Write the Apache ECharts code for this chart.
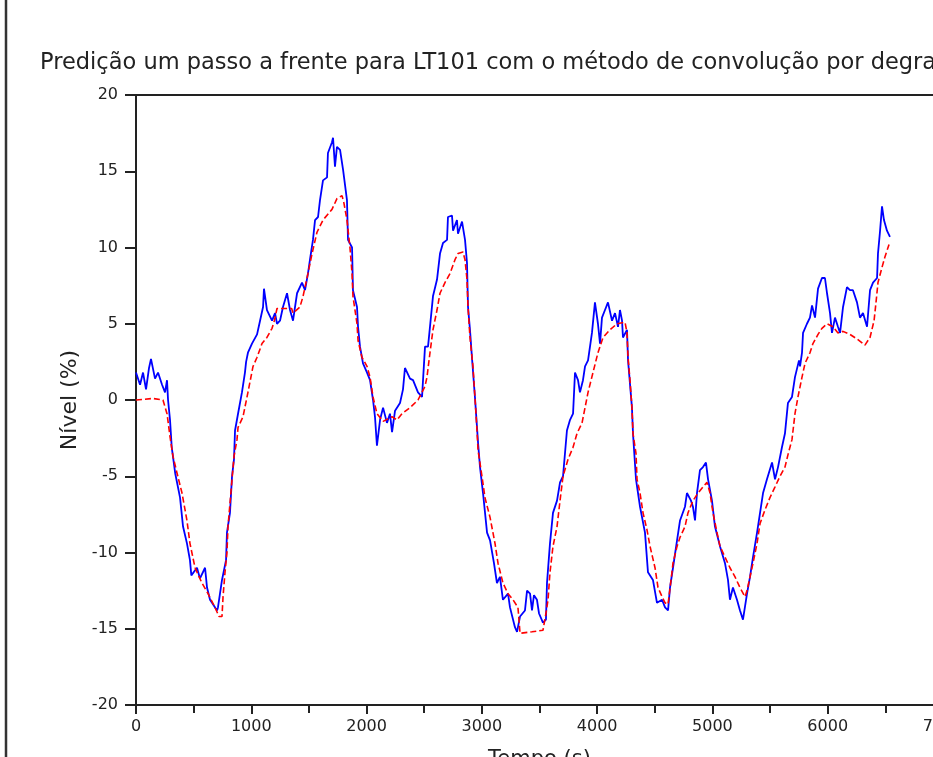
<!DOCTYPE html>
<html>
<head>
<meta charset="utf-8">
<script src="https://cdn.jsdelivr.net/npm/echarts@6/dist/echarts.min.js"></script>
<style>
  html, body { margin: 0; padding: 0; background: #fff; }
  #chart { width: 933px; height: 757px; }
</style>
</head>
<body>
<div id="chart"></div>
<script>
// nível medido (azul)
const measured = [
  [0, 1.8], [35, 1.0], [61, 1.8], [87, 0.7], [113, 2.1], [130, 2.7], [165, 1.4], [191, 1.8],
  [226, 1.0], [252, 0.5], [269, 1.3], [278, 0.0], [295, -1.3], [310, -3.1], [340, -4.8],
  [382, -6.4], [408, -8.3], [442, -9.4], [468, -10.5], [480, -11.5], [529, -11.0], [555, -11.7],
  [599, -11.0], [616, -12.3], [642, -13.1], [703, -13.8], [711, -13.6], [746, -11.8], [781, -10.5],
  [789, -8.7], [815, -7.4], [833, -5.0], [850, -3.9], [859, -2.0], [885, -0.9], [919, 0.5],
  [945, 1.8], [955, 2.5], [971, 3.1], [1006, 3.7], [1050, 4.3], [1076, 5.2], [1102, 6.1],
  [1110, 7.3], [1136, 5.9], [1180, 5.2], [1206, 5.7], [1223, 5.0], [1249, 5.2], [1275, 6.1],
  [1310, 7.0], [1336, 5.9], [1362, 5.2], [1397, 7.0], [1440, 7.7], [1466, 7.2], [1492, 8.3],
  [1509, 9.2], [1535, 10.5], [1553, 11.8], [1579, 12.0], [1596, 13.1], [1622, 14.4], [1657, 14.6],
  [1665, 16.2], [1700, 16.9], [1709, 17.2], [1726, 15.3], [1743, 16.6], [1770, 16.4], [1796, 15.1],
  [1830, 13.1], [1839, 10.5], [1874, 10.0], [1882, 7.2], [1917, 6.1], [1926, 4.8], [1943, 3.5],
  [1969, 2.4], [2004, 1.8], [2030, 1.3], [2056, 0.0], [2073, -1.1], [2090, -3.0], [2117, -1.3],
  [2143, -0.5], [2177, -1.5], [2203, -0.9], [2221, -2.1], [2247, -0.7], [2290, -0.2], [2316, 0.7],
  [2333, 2.1], [2377, 1.4], [2403, 1.3], [2446, 0.5], [2481, 0.2], [2507, 3.5], [2533, 3.5],
  [2550, 4.8], [2576, 6.8], [2611, 7.9], [2637, 9.6], [2663, 10.3], [2698, 10.5], [2706, 12.0],
  [2741, 12.1], [2750, 11.1], [2784, 11.8], [2793, 10.9], [2828, 11.7], [2854, 10.5], [2871, 9.0],
  [2880, 6.1], [2897, 4.6], [2914, 2.8], [2940, 0.2], [2967, -2.8], [2984, -4.4], [3010, -6.1],
  [3045, -8.7], [3071, -9.2], [3105, -10.7], [3131, -12.0], [3157, -11.6], [3183, -13.1],
  [3227, -12.7], [3244, -13.6], [3287, -14.9], [3305, -15.2], [3331, -14.2], [3374, -13.8],
  [3392, -12.5], [3418, -12.7], [3435, -13.8], [3452, -12.8], [3478, -13.1], [3496, -14.0],
  [3530, -14.6], [3556, -14.4], [3565, -12.0], [3591, -9.4], [3617, -7.4], [3652, -6.6],
  [3678, -5.4], [3704, -5.0], [3738, -2.0], [3765, -1.3], [3791, -0.9], [3808, 1.8], [3834, 1.3],
  [3851, 0.5], [3877, 1.3], [3895, 2.2], [3921, 2.6], [3955, 4.4], [3981, 6.4], [4007, 5.0],
  [4025, 3.7], [4042, 5.4], [4068, 5.9], [4094, 6.4], [4129, 5.2], [4155, 5.7], [4181, 4.8],
  [4198, 5.9], [4216, 5.2], [4224, 4.1], [4259, 4.6], [4268, 2.6], [4302, -0.5], [4311, -2.2],
  [4337, -5.2], [4372, -7.0], [4415, -8.7], [4441, -11.3], [4484, -11.8], [4519, -13.3],
  [4563, -13.1], [4589, -13.6], [4615, -13.8], [4632, -12.3], [4658, -11.0], [4693, -9.2],
  [4719, -7.9], [4762, -7.0], [4779, -6.1], [4814, -6.6], [4831, -7.0], [4849, -7.9], [4866, -6.1],
  [4892, -4.6], [4918, -4.4], [4944, -4.1], [4962, -5.2], [4996, -6.6], [5022, -8.3], [5066, -9.6],
  [5109, -10.7], [5135, -11.8], [5152, -13.1], [5178, -12.3], [5213, -13.1], [5239, -13.8],
  [5265, -14.4], [5300, -12.7], [5326, -11.6], [5352, -10.3], [5387, -8.7], [5413, -7.4],
  [5439, -6.1], [5473, -5.2], [5517, -4.1], [5543, -5.2], [5569, -4.4], [5603, -3.1], [5629, -2.2],
  [5655, -0.2], [5690, 0.2], [5716, 1.5], [5751, 2.6], [5760, 2.2], [5777, 3.1], [5786, 4.4],
  [5820, 5.0], [5846, 5.4], [5864, 6.2], [5890, 5.4], [5916, 7.3], [5950, 8.0], [5976, 8.0],
  [5994, 7.0], [6020, 5.7], [6037, 4.4], [6063, 5.4], [6089, 4.8], [6107, 4.4], [6133, 6.1],
  [6167, 7.4], [6193, 7.2], [6219, 7.2], [6254, 6.4], [6280, 5.4], [6306, 5.7], [6341, 4.8],
  [6367, 7.2], [6393, 7.7], [6428, 8.0], [6436, 9.6], [6453, 11.0], [6471, 12.7], [6488, 11.8],
  [6514, 11.1], [6540, 10.7]
];

// predição um passo a frente (vermelho tracejado)
const predicted = [
  [0, 0.0], [147, 0.1], [234, 0.0], [269, -0.9], [295, -2.4], [321, -3.7], [356, -4.8],
  [399, -6.1], [442, -7.9], [468, -9.4], [512, -11.0], [572, -12.0], [625, -12.7], [685, -13.6],
  [720, -14.2], [746, -14.2], [755, -12.9], [772, -11.3], [789, -10.0], [798, -8.3], [815, -6.8],
  [833, -5.2], [850, -3.7], [876, -2.6], [885, -1.8], [928, -1.1], [971, 0.5], [1015, 2.2],
  [1050, 2.8], [1093, 3.7], [1136, 4.1], [1180, 4.7], [1200, 5.2], [1223, 6.0], [1350, 6.0],
  [1362, 5.7], [1422, 6.1], [1449, 6.8], [1466, 7.4], [1492, 8.3], [1527, 9.6], [1570, 11.0],
  [1622, 11.8], [1700, 12.5], [1743, 13.2], [1787, 13.4], [1804, 12.9], [1830, 11.8], [1856, 10.0],
  [1874, 8.3], [1882, 6.8], [1917, 5.0], [1926, 3.9], [1960, 2.8], [2004, 2.2], [2030, 1.5],
  [2056, 0.2], [2090, -0.9], [2143, -1.4], [2221, -1.1], [2264, -1.3], [2307, -0.9], [2377, -0.5],
  [2446, 0.0], [2463, 0.1], [2507, 0.9], [2524, 1.5], [2550, 3.1], [2576, 4.6], [2611, 5.9],
  [2637, 7.0], [2680, 7.7], [2724, 8.3], [2767, 9.2], [2793, 9.6], [2836, 9.7], [2854, 9.2],
  [2871, 7.9], [2880, 6.1], [2897, 4.1], [2923, 2.2], [2940, 0.2], [2958, -2.0], [2967, -3.3],
  [3001, -5.0], [3027, -6.4], [3071, -7.7], [3114, -9.4], [3140, -10.7], [3183, -12.0],
  [3227, -12.7], [3270, -13.1], [3313, -13.6], [3322, -14.4], [3331, -15.3], [3435, -15.2],
  [3530, -15.1], [3556, -14.0], [3574, -13.1], [3591, -11.3], [3617, -9.6], [3652, -8.3],
  [3678, -6.6], [3704, -5.0], [3747, -3.9], [3791, -3.1], [3825, -2.2], [3869, -1.5], [3921, 0.5],
  [3964, 1.8], [4007, 3.1], [4051, 4.1], [4111, 4.6], [4172, 5.0], [4242, 5.1], [4259, 4.4],
  [4268, 2.8], [4285, 1.3], [4302, -0.5], [4311, -2.2], [4337, -3.5], [4346, -5.2], [4372, -6.1],
  [4398, -7.4], [4432, -8.5], [4459, -9.6], [4502, -11.0], [4528, -12.3], [4563, -12.9],
  [4589, -13.3], [4615, -13.4], [4641, -11.8], [4658, -10.7], [4693, -9.6], [4719, -9.0],
  [4762, -8.3], [4788, -7.4], [4831, -6.6], [4875, -6.1], [4918, -5.7], [4953, -5.4], [4979, -6.1],
  [5005, -7.4], [5040, -8.7], [5066, -9.6], [5109, -10.3], [5152, -11.0], [5196, -11.6],
  [5239, -12.3], [5282, -12.9], [5300, -12.5], [5326, -11.6], [5352, -10.7], [5387, -9.4],
  [5413, -8.1], [5456, -7.2], [5499, -6.4], [5543, -5.7], [5586, -5.0], [5629, -4.4], [5655, -3.6],
  [5690, -2.6], [5716, -0.9], [5742, 0.2], [5777, 1.5], [5803, 2.4], [5846, 3.1], [5872, 3.7],
  [5916, 4.3], [5950, 4.7], [5994, 5.0], [6046, 4.8], [6089, 4.4], [6133, 4.5], [6193, 4.3],
  [6254, 4.0], [6323, 3.6], [6367, 4.1], [6402, 5.2], [6419, 6.4], [6436, 7.7], [6471, 8.7],
  [6497, 9.4], [6532, 10.2]
];

const titleText = 'Predição um passo a frente para LT101 com o método de convolução por degrau';
const xName = 'Tempo (s)';
const yName = 'Nível (%)';

const chart = echarts.init(document.getElementById('chart'));
const axisColor = '#222';
const fontFamily = '"DejaVu Sans", Verdana, sans-serif';

chart.setOption({
    backgroundColor: '#fff',
    animation: false,
    title: {
        text: titleText,
        left: 35,
        top: 47,
        textStyle: {
            fontFamily: fontFamily,
            fontSize: 22.5,
            fontWeight: 'normal',
            color: '#222'
        }
    },
    grid: {
        left: 136,
        top: 95,
        width: 807,
        height: 610,
        outerBoundsMode: 'none',
        containLabel: false,
        show: true,
        borderColor: axisColor,
        borderWidth: 2
    },
    xAxis: {
        type: 'value',
        min: 0,
        max: 7000,
        interval: 1000,
        name: xName,
        nameLocation: 'middle',
        nameGap: 44,
        nameTextStyle: { fontFamily: fontFamily, fontSize: 21, color: '#222' },
        axisLine: { onZero: false, lineStyle: { color: axisColor, width: 2 } },
        axisTick: { length: 9, lineStyle: { color: axisColor, width: 2 } },
        minorTick: { show: true, splitNumber: 2, length: 8, lineStyle: { color: axisColor, width: 2 } },
        splitLine: { show: false },
        axisLabel: {
            fontFamily: fontFamily, fontSize: 16, color: '#222', margin: 14,
            formatter: function (v) { return String(v); }
        }
    },
    yAxis: {
        type: 'value',
        min: -20,
        max: 20,
        interval: 5,
        name: yName,
        nameLocation: 'middle',
        nameGap: 54,
        nameRotate: 90,
        nameTextStyle: { fontFamily: fontFamily, fontSize: 22, color: '#222' },
        axisLine: { onZero: false, lineStyle: { color: axisColor, width: 2 } },
        axisTick: { length: 11, lineStyle: { color: axisColor, width: 2 } },
        splitLine: { show: false },
        axisLabel: {
            fontFamily: fontFamily, fontSize: 16, color: '#222', margin: 18,
            formatter: function (v) { return String(v); }
        }
    },
    graphic: [{
        type: 'line',
        shape: { x1: 6, y1: 0, x2: 6, y2: 757 },
        style: { stroke: '#333', lineWidth: 2.5 }
    }],
    series: [
        {
            name: 'medido',
            type: 'line',
            data: measured,
            showSymbol: false,
            lineStyle: { color: '#0000ff', width: 1.8 },
            z: 2
        },
        {
            name: 'predito',
            type: 'line',
            data: predicted,
            showSymbol: false,
            lineStyle: { color: '#ff0000', width: 1.6, type: [6, 3] },
            z: 3
        }
    ]
});
</script>
</body>
</html>
